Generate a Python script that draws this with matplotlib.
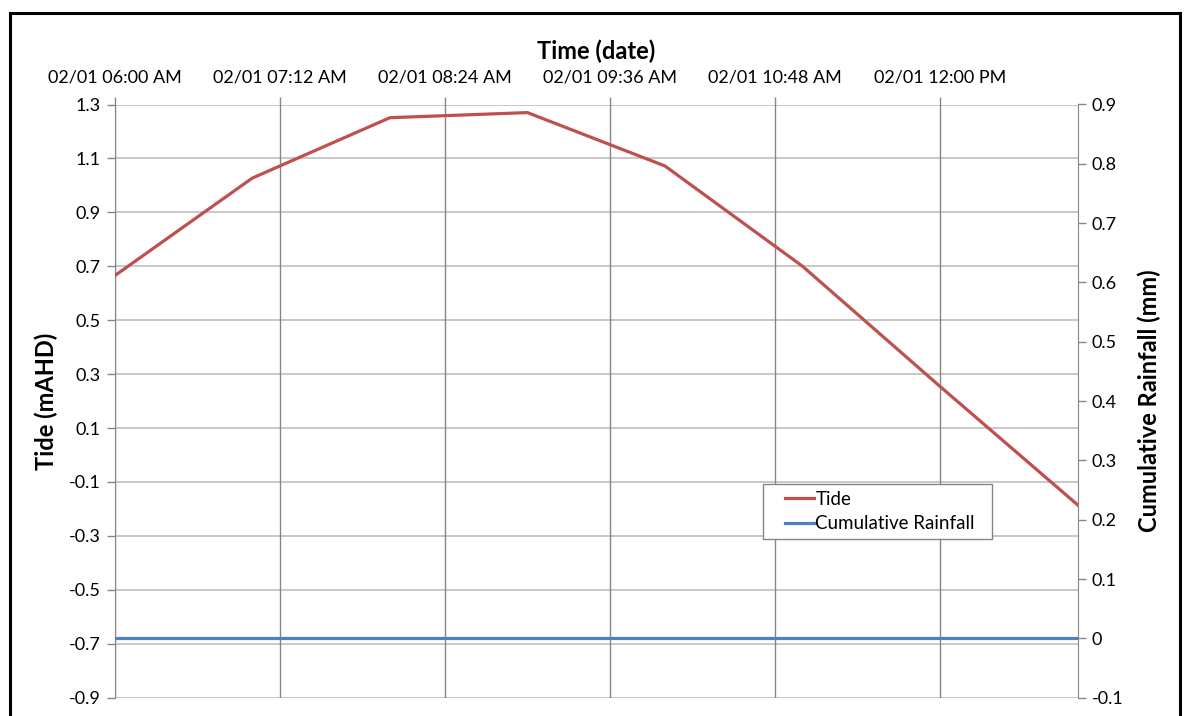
import datetime as dt
import matplotlib
matplotlib.use("Agg")
import matplotlib.pyplot as plt
import matplotlib.dates as mdates
from matplotlib.patches import Rectangle
from matplotlib.legend_handler import HandlerLine2D

plt.rcParams['font.family'] = ['Lato', 'DejaVu Sans']

# Hourly observations
times = [dt.datetime(2000, 1, 2, h, 0) for h in range(6, 14)]
tide = [0.665, 1.027, 1.251, 1.270, 1.072, 0.700, 0.254, -0.185]
rainfall = [0, 0, 0, 0, 0, 0, 0, 0]

# Axis ticks
x_ticks = [dt.datetime(2000, 1, 2, 6, 0) + dt.timedelta(minutes=72 * i) for i in range(6)]
x_tick_labels = ["02/01 06:00 AM", "02/01 07:12 AM", "02/01 08:24 AM",
                 "02/01 09:36 AM", "02/01 10:48 AM", "02/01 12:00 PM"]
x_min = dt.datetime(2000, 1, 2, 6, 0)
x_max = dt.datetime(2000, 1, 2, 13, 0)
tide_ticks = [-0.9, -0.7, -0.5, -0.3, -0.1, 0.1, 0.3, 0.5, 0.7, 0.9, 1.1, 1.3]
rain_ticks = [-0.1, 0, 0.1, 0.2, 0.3, 0.4, 0.5, 0.6, 0.7, 0.8, 0.9]

RED = "#C0504D"
BLUE = "#4F81BD"
HGRID = "#BFBFBF"
VGRID = "#868686"
FS = 13
TFS = 17

fig = plt.figure(figsize=(11.84, 7.16), dpi=100)
W, H = 1184, 716
ax = fig.add_axes([114.7 / W, 1 - 697.7 / H, (1077.7 - 114.7) / W, (697.7 - 104.5) / H])
ax2 = ax.twinx()

ax.set_zorder(1)
ax2.set_zorder(2)
ax2.patch.set_visible(False)

line_tide, = ax.plot(times, tide, color=RED, lw=2.3, solid_joinstyle='round', zorder=3)
line_rain, = ax2.plot(times, rainfall, color=BLUE, lw=2.3, zorder=3)

# Left axis: tide
ax.set_ylim(-0.9, 1.3)
ax.set_yticks(tide_ticks)
ax.set_yticklabels([f"{v:.1f}" for v in tide_ticks])
ax.set_ylabel("Tide (mAHD)", fontsize=TFS, fontweight='bold', labelpad=8)

# Top axis: time
xt = mdates.date2num(x_ticks)
ax.set_xlim(mdates.date2num(x_min), mdates.date2num(x_max))
ax.xaxis.tick_top()
ax.xaxis.set_label_position('top')
ax.set_xticks(xt)
ax.set_xticklabels(x_tick_labels)
ax.set_xlabel("Time (date)", fontsize=TFS, fontweight='bold', labelpad=7)

# Right axis: rainfall
ax2.set_ylim(-0.1, 0.9)
ax2.set_yticks(rain_ticks)
ax2.set_yticklabels(["0" if v == 0 else f"{v:.1f}" for v in rain_ticks])
ax2.set_ylabel("Cumulative Rainfall (mm)", fontsize=TFS, fontweight='bold', labelpad=10)

# Gridlines
for v in tide_ticks:
    ax.axhline(v, color=HGRID, lw=1.2, zorder=1)
for v in xt:
    ax.axvline(v, color=VGRID, lw=1.0, zorder=1)

for a in (ax, ax2):
    for s in a.spines.values():
        s.set_visible(False)
    a.tick_params(labelsize=FS, length=6, width=1, color=VGRID, direction='out', pad=4)
ax.spines['left'].set_visible(True)
ax.spines['left'].set_color(VGRID)
ax2.spines['right'].set_visible(True)
ax2.spines['right'].set_color(VGRID)
ax.tick_params(axis='x', length=6, pad=8)

# Legend with indented line handles
handler = HandlerLine2D(xpad=0.85)
leg = ax2.legend([line_tide, line_rain], ["Tide", "Cumulative Rainfall"],
                 loc='upper left', bbox_to_anchor=(0.673, 0.271, 0.238, 0.089),
                 mode='expand', handler_map={line_tide: handler, line_rain: handler},
                 fontsize=FS + 0.5, frameon=True, fancybox=False, framealpha=1,
                 edgecolor=VGRID, handlelength=2.4, handletextpad=0.05,
                 borderaxespad=0, borderpad=0.35, labelspacing=0.4)
leg.get_frame().set_linewidth(1.0)
leg.set_zorder(10)

# Outer frame
fig.patches.append(Rectangle((9.5 / W, -0.1), (1179.5 - 9.5) / W, 1.1 - 13.5 / H,
                             transform=fig.transFigure, fill=False,
                             edgecolor='black', lw=2.2))

fig.savefig("out.png", dpi=100)
